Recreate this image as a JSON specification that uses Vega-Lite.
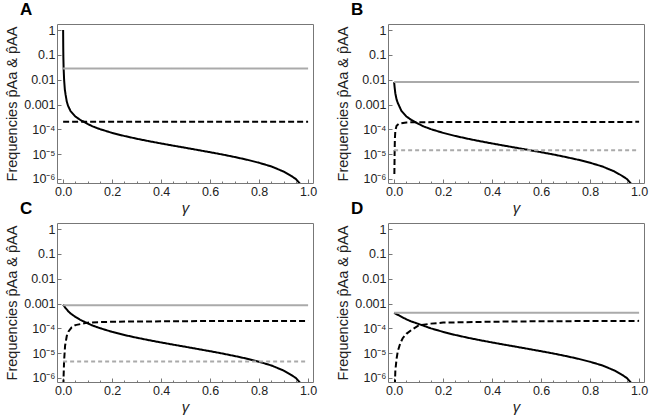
{
  "$schema": "https://vega.github.io/schema/vega-lite/v6.json",
  "background": "white",
  "padding": {"left": 4, "top": 0, "right": 4, "bottom": 0},
  "config": {
    "font": "Liberation Sans",
    "view": {"stroke": "#777", "strokeWidth": 1},
    "axis": {"domain": false, "grid": false, "labelColor": "#222", "labelFontSize": 12.5, "titleColor": "#222", "tickColor": "#777", "labelFont": "Liberation Sans", "titleFont": "Liberation Sans"}
  },
  "datasets": {
    "d": [
      {"p":"A","s":"solid","x":0,"y":1},{"p":"A","s":"solid","x":0.0005,"y":0.2},{"p":"A","s":"solid","x":0.001,"y":0.08},{"p":"A","s":"solid","x":0.002,"y":0.03},{"p":"A","s":"solid","x":0.004,"y":0.01},{"p":"A","s":"solid","x":0.007,"y":0.004},{"p":"A","s":"solid","x":0.01,"y":0.0025},{"p":"A","s":"solid","x":0.015,"y":0.0013},{"p":"A","s":"solid","x":0.02,"y":0.0009},{"p":"A","s":"solid","x":0.03,"y":0.00055},{"p":"A","s":"solid","x":0.05,"y":0.00033},{"p":"A","s":"solid","x":0.07,"y":0.00024},{"p":"A","s":"solid","x":0.1,"y":0.000165},{"p":"A","s":"solid","x":0.12,"y":0.000132},{"p":"A","s":"solid","x":0.15,"y":0.000102},{"p":"A","s":"solid","x":0.2,"y":0.000072},{"p":"A","s":"solid","x":0.25,"y":0.000054},{"p":"A","s":"solid","x":0.3,"y":0.000042},{"p":"A","s":"solid","x":0.35,"y":0.0000334},{"p":"A","s":"solid","x":0.4,"y":0.000027},{"p":"A","s":"solid","x":0.45,"y":0.000022},{"p":"A","s":"solid","x":0.5,"y":0.000018},{"p":"A","s":"solid","x":0.55,"y":0.0000147},{"p":"A","s":"solid","x":0.6,"y":0.000012},{"p":"A","s":"solid","x":0.65,"y":0.0000097},{"p":"A","s":"solid","x":0.7,"y":0.0000077},{"p":"A","s":"solid","x":0.75,"y":0.000006},{"p":"A","s":"solid","x":0.8,"y":0.0000045},{"p":"A","s":"solid","x":0.85,"y":0.0000032},{"p":"A","s":"solid","x":0.9,"y":0.000002},{"p":"A","s":"solid","x":0.93,"y":0.00000135},{"p":"A","s":"solid","x":0.95,"y":0.000001},{"p":"A","s":"solid","x":0.97,"y":0.0000006},
      {"p":"A","s":"dash","x":0,"y":0.0002},{"p":"A","s":"dash","x":1,"y":0.0002},
      {"p":"A","s":"gray","x":0,"y":0.028},{"p":"A","s":"gray","x":1,"y":0.028},

      {"p":"B","s":"solid","x":0,"y":0.008},{"p":"B","s":"solid","x":0.002,"y":0.005},{"p":"B","s":"solid","x":0.005,"y":0.0028},{"p":"B","s":"solid","x":0.01,"y":0.0016},{"p":"B","s":"solid","x":0.015,"y":0.00115},{"p":"B","s":"solid","x":0.02,"y":0.0009},{"p":"B","s":"solid","x":0.03,"y":0.00055},{"p":"B","s":"solid","x":0.05,"y":0.00033},{"p":"B","s":"solid","x":0.07,"y":0.00024},{"p":"B","s":"solid","x":0.1,"y":0.000165},{"p":"B","s":"solid","x":0.12,"y":0.000132},{"p":"B","s":"solid","x":0.15,"y":0.000102},{"p":"B","s":"solid","x":0.2,"y":0.000072},{"p":"B","s":"solid","x":0.25,"y":0.000054},{"p":"B","s":"solid","x":0.3,"y":0.000042},{"p":"B","s":"solid","x":0.35,"y":0.0000334},{"p":"B","s":"solid","x":0.4,"y":0.000027},{"p":"B","s":"solid","x":0.45,"y":0.000022},{"p":"B","s":"solid","x":0.5,"y":0.000018},{"p":"B","s":"solid","x":0.55,"y":0.0000147},{"p":"B","s":"solid","x":0.6,"y":0.000012},{"p":"B","s":"solid","x":0.65,"y":0.0000097},{"p":"B","s":"solid","x":0.7,"y":0.0000077},{"p":"B","s":"solid","x":0.75,"y":0.000006},{"p":"B","s":"solid","x":0.8,"y":0.0000045},{"p":"B","s":"solid","x":0.85,"y":0.0000032},{"p":"B","s":"solid","x":0.9,"y":0.000002},{"p":"B","s":"solid","x":0.93,"y":0.00000135},{"p":"B","s":"solid","x":0.95,"y":0.000001},{"p":"B","s":"solid","x":0.97,"y":0.0000006},
      {"p":"B","s":"dash","x":0.001,"y":0.0000016},{"p":"B","s":"dash","x":0.002,"y":0.00001},{"p":"B","s":"dash","x":0.003,"y":0.00004},{"p":"B","s":"dash","x":0.005,"y":0.00009},{"p":"B","s":"dash","x":0.01,"y":0.00014},{"p":"B","s":"dash","x":0.02,"y":0.00017},{"p":"B","s":"dash","x":0.05,"y":0.00019},{"p":"B","s":"dash","x":0.1,"y":0.000195},{"p":"B","s":"dash","x":1,"y":0.0002},
      {"p":"B","s":"gray","x":0,"y":0.008},{"p":"B","s":"gray","x":1,"y":0.008},
      {"p":"B","s":"graydash","x":0,"y":0.0000145},{"p":"B","s":"graydash","x":1,"y":0.0000145},

      {"p":"C","s":"solid","x":0,"y":0.0009},{"p":"C","s":"solid","x":0.01,"y":0.00065},{"p":"C","s":"solid","x":0.02,"y":0.0005},{"p":"C","s":"solid","x":0.03,"y":0.0004},{"p":"C","s":"solid","x":0.05,"y":0.00029},{"p":"C","s":"solid","x":0.07,"y":0.00022},{"p":"C","s":"solid","x":0.1,"y":0.00016},{"p":"C","s":"solid","x":0.12,"y":0.00013},{"p":"C","s":"solid","x":0.15,"y":0.000102},{"p":"C","s":"solid","x":0.2,"y":0.000072},{"p":"C","s":"solid","x":0.25,"y":0.000054},{"p":"C","s":"solid","x":0.3,"y":0.000042},{"p":"C","s":"solid","x":0.35,"y":0.0000334},{"p":"C","s":"solid","x":0.4,"y":0.000027},{"p":"C","s":"solid","x":0.45,"y":0.000022},{"p":"C","s":"solid","x":0.5,"y":0.000018},{"p":"C","s":"solid","x":0.55,"y":0.0000147},{"p":"C","s":"solid","x":0.6,"y":0.000012},{"p":"C","s":"solid","x":0.65,"y":0.0000097},{"p":"C","s":"solid","x":0.7,"y":0.0000077},{"p":"C","s":"solid","x":0.75,"y":0.000006},{"p":"C","s":"solid","x":0.8,"y":0.0000045},{"p":"C","s":"solid","x":0.85,"y":0.0000032},{"p":"C","s":"solid","x":0.9,"y":0.000002},{"p":"C","s":"solid","x":0.93,"y":0.00000135},{"p":"C","s":"solid","x":0.95,"y":0.000001},{"p":"C","s":"solid","x":0.97,"y":0.0000006},
      {"p":"C","s":"dash","x":0.001,"y":0.0000005},{"p":"C","s":"dash","x":0.002,"y":0.0000012},{"p":"C","s":"dash","x":0.004,"y":0.000005},{"p":"C","s":"dash","x":0.008,"y":0.00002},{"p":"C","s":"dash","x":0.015,"y":0.00005},{"p":"C","s":"dash","x":0.022,"y":0.000075},{"p":"C","s":"dash","x":0.035,"y":0.00011},{"p":"C","s":"dash","x":0.05,"y":0.000135},{"p":"C","s":"dash","x":0.1,"y":0.00017},{"p":"C","s":"dash","x":0.2,"y":0.000185},{"p":"C","s":"dash","x":0.5,"y":0.000195},{"p":"C","s":"dash","x":1,"y":0.0002},
      {"p":"C","s":"gray","x":0,"y":0.00085},{"p":"C","s":"gray","x":1,"y":0.00085},
      {"p":"C","s":"graydash","x":0,"y":0.0000046},{"p":"C","s":"graydash","x":1,"y":0.0000046},

      {"p":"D","s":"solid","x":0,"y":0.00042},{"p":"D","s":"solid","x":0.02,"y":0.00033},{"p":"D","s":"solid","x":0.05,"y":0.00023},{"p":"D","s":"solid","x":0.07,"y":0.00019},{"p":"D","s":"solid","x":0.1,"y":0.00015},{"p":"D","s":"solid","x":0.15,"y":0.0001},{"p":"D","s":"solid","x":0.2,"y":0.000072},{"p":"D","s":"solid","x":0.25,"y":0.000054},{"p":"D","s":"solid","x":0.3,"y":0.000042},{"p":"D","s":"solid","x":0.35,"y":0.0000334},{"p":"D","s":"solid","x":0.4,"y":0.000027},{"p":"D","s":"solid","x":0.45,"y":0.000022},{"p":"D","s":"solid","x":0.5,"y":0.000018},{"p":"D","s":"solid","x":0.55,"y":0.0000147},{"p":"D","s":"solid","x":0.6,"y":0.000012},{"p":"D","s":"solid","x":0.65,"y":0.0000097},{"p":"D","s":"solid","x":0.7,"y":0.0000077},{"p":"D","s":"solid","x":0.75,"y":0.000006},{"p":"D","s":"solid","x":0.8,"y":0.0000045},{"p":"D","s":"solid","x":0.85,"y":0.0000032},{"p":"D","s":"solid","x":0.9,"y":0.000002},{"p":"D","s":"solid","x":0.93,"y":0.00000135},{"p":"D","s":"solid","x":0.95,"y":0.000001},{"p":"D","s":"solid","x":0.97,"y":0.0000006},
      {"p":"D","s":"dash","x":0.003,"y":0.0000005},{"p":"D","s":"dash","x":0.005,"y":0.000002},{"p":"D","s":"dash","x":0.01,"y":0.000006},{"p":"D","s":"dash","x":0.015,"y":0.000012},{"p":"D","s":"dash","x":0.025,"y":0.000025},{"p":"D","s":"dash","x":0.035,"y":0.00004},{"p":"D","s":"dash","x":0.05,"y":0.00006},{"p":"D","s":"dash","x":0.07,"y":0.000085},{"p":"D","s":"dash","x":0.1,"y":0.00013},{"p":"D","s":"dash","x":0.15,"y":0.000155},{"p":"D","s":"dash","x":0.2,"y":0.00017},{"p":"D","s":"dash","x":0.4,"y":0.000185},{"p":"D","s":"dash","x":0.6,"y":0.000193},{"p":"D","s":"dash","x":1,"y":0.0002},
      {"p":"D","s":"gray","x":0,"y":0.00042},{"p":"D","s":"gray","x":1,"y":0.00042}
    ]
  },
  "columns": 2,
  "spacing": {"row": -17, "column": 17},
  "concat": [
    {
      "width": 256, "height": 159,
      "title": {"text": "A", "anchor": "start", "frame": "group", "dx": -37, "fontSize": 17, "fontWeight": "bold", "offset": 5, "font": "Liberation Sans"},
      "data": {"name": "d"},
      "transform": [{"filter": "datum.p == 'A'"}],
      "mark": {"type": "line", "clip": true},
      "encoding": {
        "x": {"field": "x", "type": "quantitative", "scale": {"domain": [-0.025, 1.02], "nice": false, "zero": false},
          "axis": {"title": "γ", "titleFontSize": 15, "titleFontStyle": "italic", "titleFontWeight": "normal", "titlePadding": 1, "values": [0,0.05,0.1,0.15,0.2,0.25,0.3,0.35,0.4,0.45,0.5,0.55,0.6,0.65,0.7,0.75,0.8,0.85,0.9,0.95,1], "labelExpr": "abs(datum.value*5 - round(datum.value*5)) < 0.001 ? format(datum.value, '.1f') : ''", "labelOverlap": false, "labelFlush": false, "tickSize": {"condition": {"test": "abs(datum.value*5 - round(datum.value*5)) < 0.001", "value": -4}, "value": -2}, "labelPadding": 6}},
        "y": {"field": "y", "type": "quantitative", "scale": {"type": "log", "domain": [6.9e-7, 1.75], "nice": false},
          "axis": {"title": "Frequencies p̂Aa & p̂AA", "titleFontSize": 14.5, "titleFontWeight": "normal", "titlePadding": 4, "values": [0.000001,0.00001,0.0001,0.001,0.01,0.1,1], "labelExpr": "datum.value >= 0.9 ? '1' : datum.value >= 0.09 ? '0.1' : datum.value >= 0.009 ? '0.01' : datum.value >= 0.0009 ? '0.001' : datum.value >= 0.00009 ? '10⁻⁴' : datum.value >= 0.000009 ? '10⁻⁵' : '10⁻⁶'", "tickSize": -4, "labelPadding": 6}},
        "color": {"field": "s", "type": "nominal", "scale": {"domain": ["solid","dash","gray","graydash"], "range": ["#000","#000","#aaa","#aaa"]}, "legend": null},
        "strokeDash": {"field": "s", "type": "nominal", "scale": {"domain": ["solid","dash","gray","graydash"], "range": [[1,0],[6,3],[1,0],[4,3]]}, "legend": null},
        "strokeWidth": {"field": "s", "type": "nominal", "scale": {"domain": ["solid","dash","gray","graydash"], "range": [2,2,1.1,1.1]}, "legend": null}
      }
    },
    {
      "width": 256, "height": 159,
      "title": {"text": "B", "anchor": "start", "frame": "group", "dx": -37, "fontSize": 17, "fontWeight": "bold", "offset": 5, "font": "Liberation Sans"},
      "data": {"name": "d"},
      "transform": [{"filter": "datum.p == 'B'"}],
      "mark": {"type": "line", "clip": true},
      "encoding": {
        "x": {"field": "x", "type": "quantitative", "scale": {"domain": [-0.025, 1.02], "nice": false, "zero": false},
          "axis": {"title": "γ", "titleFontSize": 15, "titleFontStyle": "italic", "titleFontWeight": "normal", "titlePadding": 1, "values": [0,0.05,0.1,0.15,0.2,0.25,0.3,0.35,0.4,0.45,0.5,0.55,0.6,0.65,0.7,0.75,0.8,0.85,0.9,0.95,1], "labelExpr": "abs(datum.value*5 - round(datum.value*5)) < 0.001 ? format(datum.value, '.1f') : ''", "labelOverlap": false, "labelFlush": false, "tickSize": {"condition": {"test": "abs(datum.value*5 - round(datum.value*5)) < 0.001", "value": -4}, "value": -2}, "labelPadding": 6}},
        "y": {"field": "y", "type": "quantitative", "scale": {"type": "log", "domain": [6.9e-7, 1.75], "nice": false},
          "axis": {"title": "Frequencies p̂Aa & p̂AA", "titleFontSize": 14.5, "titleFontWeight": "normal", "titlePadding": 4, "values": [0.000001,0.00001,0.0001,0.001,0.01,0.1,1], "labelExpr": "datum.value >= 0.9 ? '1' : datum.value >= 0.09 ? '0.1' : datum.value >= 0.009 ? '0.01' : datum.value >= 0.0009 ? '0.001' : datum.value >= 0.00009 ? '10⁻⁴' : datum.value >= 0.000009 ? '10⁻⁵' : '10⁻⁶'", "tickSize": -4, "labelPadding": 6}},
        "color": {"field": "s", "type": "nominal", "scale": {"domain": ["solid","dash","gray","graydash"], "range": ["#000","#000","#aaa","#aaa"]}, "legend": null},
        "strokeDash": {"field": "s", "type": "nominal", "scale": {"domain": ["solid","dash","gray","graydash"], "range": [[1,0],[6,3],[1,0],[4,3]]}, "legend": null},
        "strokeWidth": {"field": "s", "type": "nominal", "scale": {"domain": ["solid","dash","gray","graydash"], "range": [2,2,1.1,1.1]}, "legend": null}
      }
    },
    {
      "width": 256, "height": 159,
      "title": {"text": "C", "anchor": "start", "frame": "group", "dx": -37, "fontSize": 17, "fontWeight": "bold", "offset": 5, "font": "Liberation Sans"},
      "data": {"name": "d"},
      "transform": [{"filter": "datum.p == 'C'"}],
      "mark": {"type": "line", "clip": true},
      "encoding": {
        "x": {"field": "x", "type": "quantitative", "scale": {"domain": [-0.025, 1.02], "nice": false, "zero": false},
          "axis": {"title": "γ", "titleFontSize": 15, "titleFontStyle": "italic", "titleFontWeight": "normal", "titlePadding": 1, "values": [0,0.05,0.1,0.15,0.2,0.25,0.3,0.35,0.4,0.45,0.5,0.55,0.6,0.65,0.7,0.75,0.8,0.85,0.9,0.95,1], "labelExpr": "abs(datum.value*5 - round(datum.value*5)) < 0.001 ? format(datum.value, '.1f') : ''", "labelOverlap": false, "labelFlush": false, "tickSize": {"condition": {"test": "abs(datum.value*5 - round(datum.value*5)) < 0.001", "value": -4}, "value": -2}, "labelPadding": 6}},
        "y": {"field": "y", "type": "quantitative", "scale": {"type": "log", "domain": [6.9e-7, 1.75], "nice": false},
          "axis": {"title": "Frequencies p̂Aa & p̂AA", "titleFontSize": 14.5, "titleFontWeight": "normal", "titlePadding": 4, "values": [0.000001,0.00001,0.0001,0.001,0.01,0.1,1], "labelExpr": "datum.value >= 0.9 ? '1' : datum.value >= 0.09 ? '0.1' : datum.value >= 0.009 ? '0.01' : datum.value >= 0.0009 ? '0.001' : datum.value >= 0.00009 ? '10⁻⁴' : datum.value >= 0.000009 ? '10⁻⁵' : '10⁻⁶'", "tickSize": -4, "labelPadding": 6}},
        "color": {"field": "s", "type": "nominal", "scale": {"domain": ["solid","dash","gray","graydash"], "range": ["#000","#000","#aaa","#aaa"]}, "legend": null},
        "strokeDash": {"field": "s", "type": "nominal", "scale": {"domain": ["solid","dash","gray","graydash"], "range": [[1,0],[6,3],[1,0],[4,3]]}, "legend": null},
        "strokeWidth": {"field": "s", "type": "nominal", "scale": {"domain": ["solid","dash","gray","graydash"], "range": [2,2,1.1,1.1]}, "legend": null}
      }
    },
    {
      "width": 256, "height": 159,
      "title": {"text": "D", "anchor": "start", "frame": "group", "dx": -37, "fontSize": 17, "fontWeight": "bold", "offset": 5, "font": "Liberation Sans"},
      "data": {"name": "d"},
      "transform": [{"filter": "datum.p == 'D'"}],
      "mark": {"type": "line", "clip": true},
      "encoding": {
        "x": {"field": "x", "type": "quantitative", "scale": {"domain": [-0.025, 1.02], "nice": false, "zero": false},
          "axis": {"title": "γ", "titleFontSize": 15, "titleFontStyle": "italic", "titleFontWeight": "normal", "titlePadding": 1, "values": [0,0.05,0.1,0.15,0.2,0.25,0.3,0.35,0.4,0.45,0.5,0.55,0.6,0.65,0.7,0.75,0.8,0.85,0.9,0.95,1], "labelExpr": "abs(datum.value*5 - round(datum.value*5)) < 0.001 ? format(datum.value, '.1f') : ''", "labelOverlap": false, "labelFlush": false, "tickSize": {"condition": {"test": "abs(datum.value*5 - round(datum.value*5)) < 0.001", "value": -4}, "value": -2}, "labelPadding": 6}},
        "y": {"field": "y", "type": "quantitative", "scale": {"type": "log", "domain": [6.9e-7, 1.75], "nice": false},
          "axis": {"title": "Frequencies p̂Aa & p̂AA", "titleFontSize": 14.5, "titleFontWeight": "normal", "titlePadding": 4, "values": [0.000001,0.00001,0.0001,0.001,0.01,0.1,1], "labelExpr": "datum.value >= 0.9 ? '1' : datum.value >= 0.09 ? '0.1' : datum.value >= 0.009 ? '0.01' : datum.value >= 0.0009 ? '0.001' : datum.value >= 0.00009 ? '10⁻⁴' : datum.value >= 0.000009 ? '10⁻⁵' : '10⁻⁶'", "tickSize": -4, "labelPadding": 6}},
        "color": {"field": "s", "type": "nominal", "scale": {"domain": ["solid","dash","gray","graydash"], "range": ["#000","#000","#aaa","#aaa"]}, "legend": null},
        "strokeDash": {"field": "s", "type": "nominal", "scale": {"domain": ["solid","dash","gray","graydash"], "range": [[1,0],[6,3],[1,0],[4,3]]}, "legend": null},
        "strokeWidth": {"field": "s", "type": "nominal", "scale": {"domain": ["solid","dash","gray","graydash"], "range": [2,2,1.1,1.1]}, "legend": null}
      }
    }
  ]
}
